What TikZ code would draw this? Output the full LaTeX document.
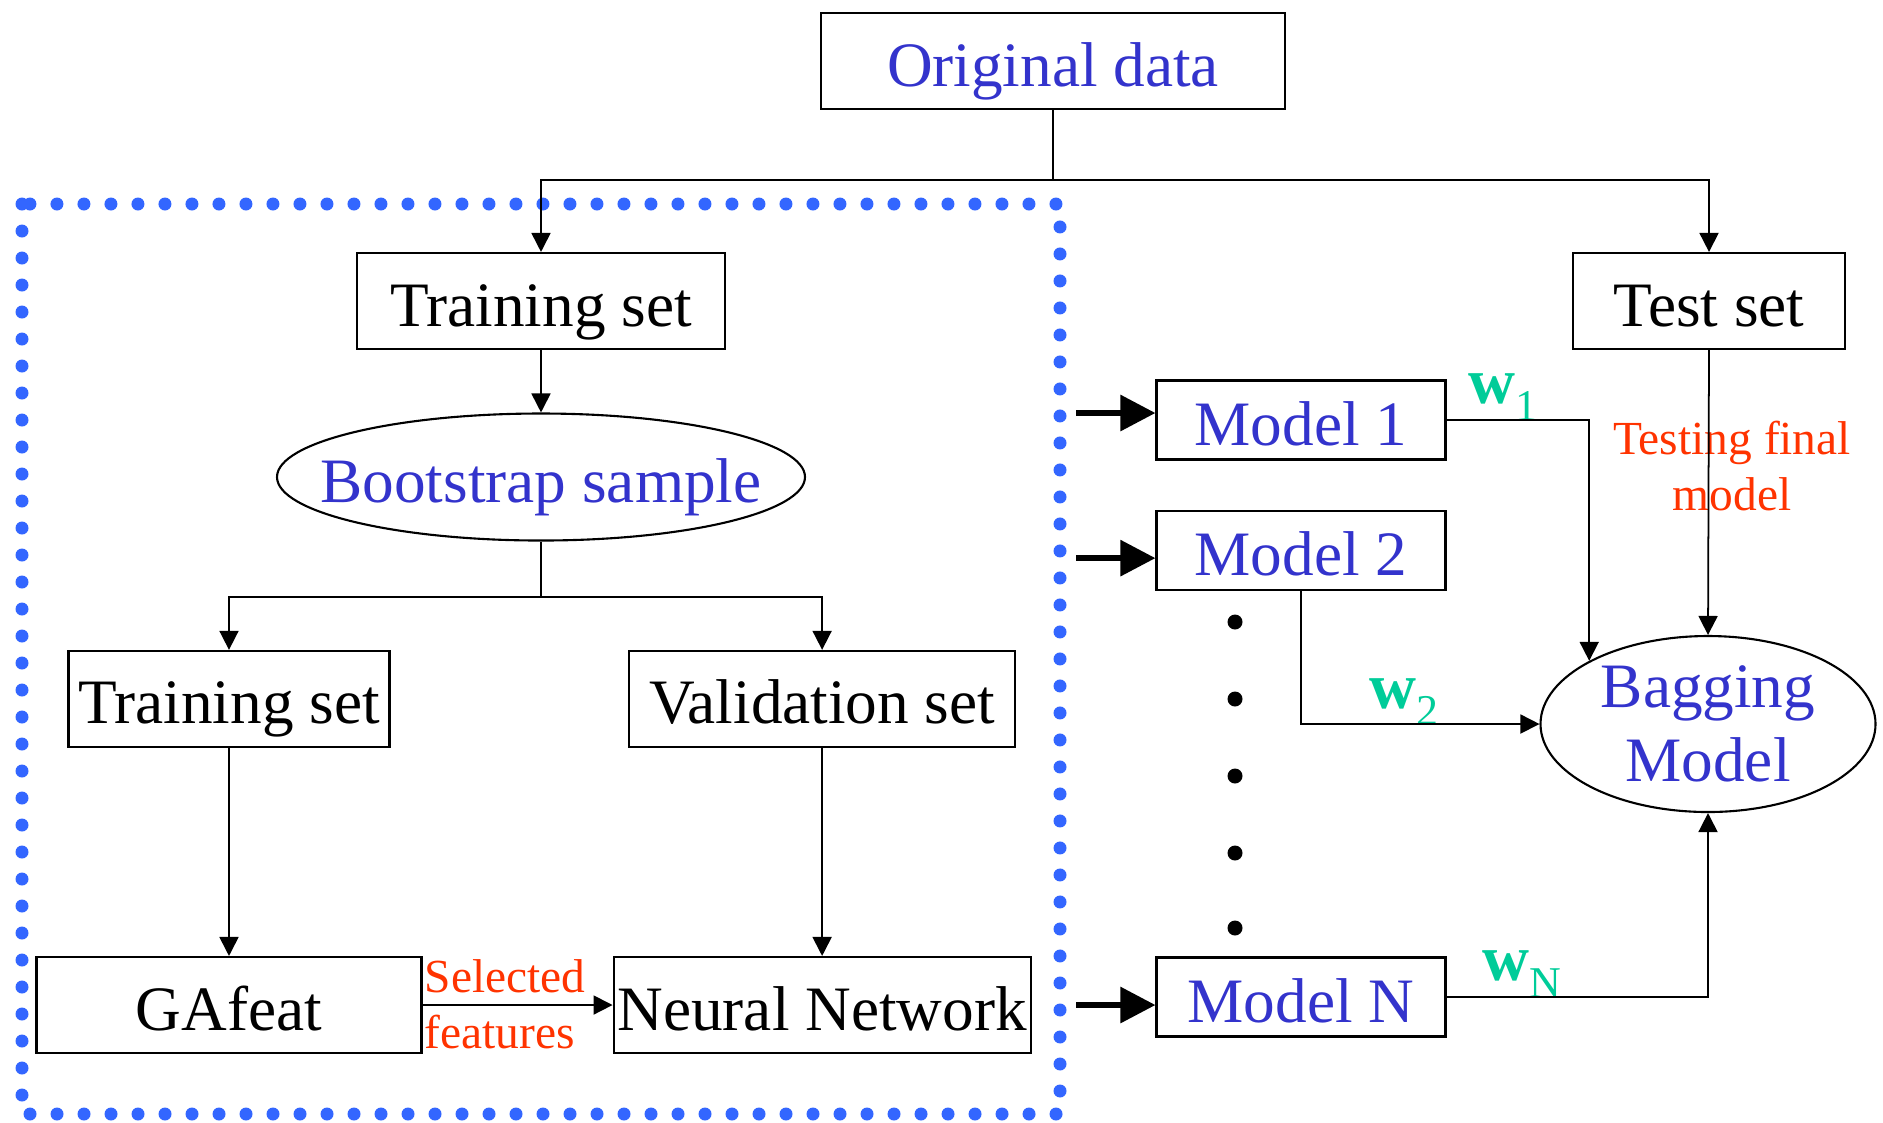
\documentclass[tikz,border=0pt]{standalone}
\usepackage{fontspec}
\setmainfont{Liberation Serif}
\usetikzlibrary{arrows.meta,positioning,shapes.geometric}
\definecolor{txtblue}{RGB}{51,51,204}
\definecolor{txtred}{RGB}{255,51,0}
\definecolor{wgreen}{RGB}{0,204,153}
\definecolor{dotblue}{RGB}{51,102,255}
\newcommand\wsub[1]{\raisebox{-0.17cm}{\fontsize{12.5}{14}\selectfont #1}}

\begin{document}
\begin{tikzpicture}[
  box/.style={draw, line width=0.6pt, inner sep=0pt, minimum height=0.96cm,
    text height=0.5cm, text depth=0pt, font=\fontsize{18}{21}\selectfont},
  modelbox/.style={box, text=txtblue, minimum width=2.89cm,
    minimum height=0.79cm},
  oval/.style={draw, ellipse, line width=0.6pt, align=center, text=txtblue,
    font=\fontsize{18}{21}\selectfont},
  arr/.style={-{Triangle[length=0.19cm, width=0.19cm]}, line width=0.5pt},
  fat/.style={-{Triangle[length=0.35cm, width=0.35cm]}, line width=1.7pt},
  note/.style={text=txtred, font=\fontsize{13.5}{16}\selectfont},
  wlab/.style={text=wgreen, anchor=base west, inner sep=0pt,
    font=\fontsize{18.5}{20}\selectfont},
  dotline/.style={draw=dotblue, line width=0.13cm, line cap=round,
    dash pattern=on 0pt off 0.27cm}
]
  \useasboundingbox (0,0) rectangle (18.83,-11.22);
  \draw[dotline] (0.22,-2.04) rectangle (10.60,-11.14);

  \node[box, text=txtblue, minimum width=4.64cm] (orig) at (10.53,-0.61)
    {Original data};
  \node[box, minimum width=3.68cm] (train) at (5.41,-3.01) {Training set};
  \node[box, minimum width=2.72cm] (test) at (17.09,-3.01) {Test set};
  \node[oval, minimum width=5.28cm, minimum height=1.27cm, inner xsep=-0.4cm,
    text height=0.5cm, text depth=0pt] (boot) at (5.41,-4.77) {Bootstrap sample};
  \node[box, minimum width=3.85cm] (ga) at (2.29,-10.05) {GAfeat};
  \node[box, minimum width=4.17cm, right=1.90cm of ga] (nn) {Neural Network};
  \node[box, minimum width=3.21cm, above=2.08cm of ga] (subtrain) {Training set};
  \node[box, minimum width=3.86cm, above=2.08cm of nn] (valid) {Validation set};

  \node[modelbox] (m1) at (13.01,-4.20) {Model 1};
  \node[modelbox, below=0.49cm of m1] (m2) {Model 2};
  \node[modelbox] (mN) at (13.01,-9.97) {Model N};
  \node[oval, minimum width=3.35cm, minimum height=1.76cm, inner sep=-0.1cm]
    (bag) at (17.08,-7.24) {Bagging\\Model};

  \node[wlab] (w1) at (14.68,-4.03) {\textbf{w}\wsub{1}};
  \node[wlab] (w2) at (13.69,-7.08) {\textbf{w}\wsub{2}};
  \node[wlab] (wN) at (14.82,-9.80) {\textbf{w}\wsub{N}};
  \node[note, align=center] (testing) at (17.32,-4.66) {Testing final\\model};
  \node[note, align=left] (sel) at (5.05,-10.04) {Selected\\features};

  \coordinate (top) at (orig.south |- 0,-1.80);
  \coordinate (mid) at (boot.south |- 0,-5.97);
  \draw[arr] (orig.south) -- (top) -| (train.north);
  \draw[arr] (top) -| (test.north);
  \draw[arr] (train) -- (boot);
  \draw[arr] (boot.south) -- (mid) -| (subtrain.north);
  \draw[arr] (mid) -| (valid.north);
  \draw[arr] (subtrain) -- (ga);
  \draw[arr] (valid) -- (nn);
  \draw[arr] (ga) -- (nn);

  \foreach \m/\dy in {m1/0.07, m2/-0.08, mN/-0.08}
    \draw[fat] ([xshift=-0.79cm, yshift=\dy cm]\m.west)
      -- ([yshift=\dy cm]\m.west);
  \foreach \y in {6.22, 6.99, 7.76, 8.53, 9.28}
    \fill (12.35,-\y) circle (0.075);

  \draw[arr] (m1.east) -| (bag.152);
  \draw[arr] (m2.south) |- (bag.west);
  \draw[arr] (mN.east) -| (bag.south);
  \draw[arr] (test.south) -- (bag.north);
\end{tikzpicture}
\end{document}
